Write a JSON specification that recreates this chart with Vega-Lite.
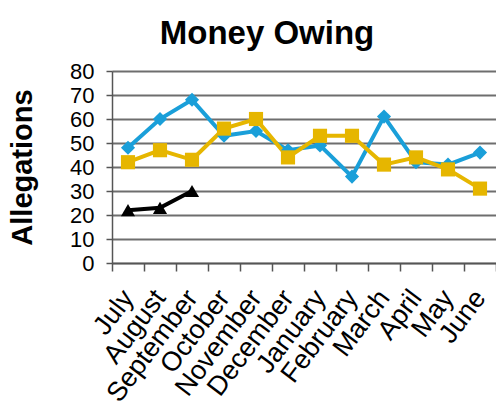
{
  "$schema": "https://vega.github.io/schema/vega-lite/v6.json",
  "autosize": {"type": "none"},
  "width": 384,
  "height": 192,
  "padding": {"left": 112, "top": 71, "right": 0, "bottom": 146},
  "background": "white",
  "title": {
    "text": "Money Owing",
    "font": "Liberation Sans",
    "fontSize": 33,
    "fontWeight": "bold",
    "color": "black",
    "anchor": "middle",
    "frame": "group",
    "dx": -37,
    "baseline": "alphabetic",
    "offset": -17
  },
  "data": {
    "values": [
      {"month": "July", "series": "Series1", "value": 48},
      {"month": "August", "series": "Series1", "value": 60},
      {"month": "September", "series": "Series1", "value": 68},
      {"month": "October", "series": "Series1", "value": 53},
      {"month": "November", "series": "Series1", "value": 55},
      {"month": "December", "series": "Series1", "value": 47},
      {"month": "January", "series": "Series1", "value": 49},
      {"month": "February", "series": "Series1", "value": 36},
      {"month": "March", "series": "Series1", "value": 61},
      {"month": "April", "series": "Series1", "value": 42},
      {"month": "May", "series": "Series1", "value": 41},
      {"month": "June", "series": "Series1", "value": 46},
      {"month": "July", "series": "Series2", "value": 42},
      {"month": "August", "series": "Series2", "value": 47},
      {"month": "September", "series": "Series2", "value": 43},
      {"month": "October", "series": "Series2", "value": 56},
      {"month": "November", "series": "Series2", "value": 60},
      {"month": "December", "series": "Series2", "value": 44},
      {"month": "January", "series": "Series2", "value": 53},
      {"month": "February", "series": "Series2", "value": 53},
      {"month": "March", "series": "Series2", "value": 41},
      {"month": "April", "series": "Series2", "value": 44},
      {"month": "May", "series": "Series2", "value": 39},
      {"month": "June", "series": "Series2", "value": 31},
      {"month": "July", "series": "Series3", "value": 22},
      {"month": "August", "series": "Series3", "value": 23},
      {"month": "September", "series": "Series3", "value": 30}
    ]
  },
  "encoding": {
    "x": {
      "field": "month",
      "type": "nominal",
      "sort": ["July", "August", "September", "October", "November", "December", "January", "February", "March", "April", "May", "June"],
      "scale": {"type": "band", "paddingInner": 0, "paddingOuter": 0},
      "axis": {
        "title": null,
        "labelAngle": -53,
        "labelAlign": "right",
        "labelBaseline": "middle",
        "labelFont": "Liberation Sans",
        "labelFontSize": 27,
        "labelColor": "black",
        "labelPadding": 22,
        "tickBand": "extent",
        "tickSize": 8,
        "tickColor": "#555555",
        "tickWidth": 1.5,
        "domainColor": "#555555",
        "domainWidth": 1.5,
        "grid": false,
        "labelOverlap": false
      }
    },
    "y": {
      "field": "value",
      "type": "quantitative",
      "scale": {"domain": [0, 80], "nice": false},
      "axis": {
        "title": "Allegations",
        "titleFont": "Liberation Sans",
        "titleFontSize": 29,
        "titleFontWeight": "bold",
        "titleColor": "black",
        "titlePadding": 32,
        "values": [0, 10, 20, 30, 40, 50, 60, 70, 80],
        "labelFont": "Liberation Sans",
        "labelFontSize": 22,
        "labelColor": "black",
        "labelPadding": 12,
        "tickSize": 6,
        "tickColor": "#555555",
        "tickWidth": 1.5,
        "domainColor": "#555555",
        "domainWidth": 1.5,
        "grid": true,
        "gridColor": "#6e6e6e",
        "gridWidth": 1.8
      }
    },
    "color": {
      "field": "series",
      "type": "nominal",
      "scale": {"domain": ["Series1", "Series2", "Series3"], "range": ["#1a9fd9", "#e6b600", "#000000"]},
      "legend": null
    }
  },
  "layer": [
    {
      "mark": {"type": "line", "strokeWidth": 4}
    },
    {
      "mark": {"type": "point", "filled": true, "opacity": 1, "size": 200},
      "encoding": {
        "shape": {
          "field": "series",
          "type": "nominal",
          "scale": {"domain": ["Series1", "Series2", "Series3"], "range": ["diamond", "square", "triangle-up"]},
          "legend": null
        }
      }
    }
  ]
}
